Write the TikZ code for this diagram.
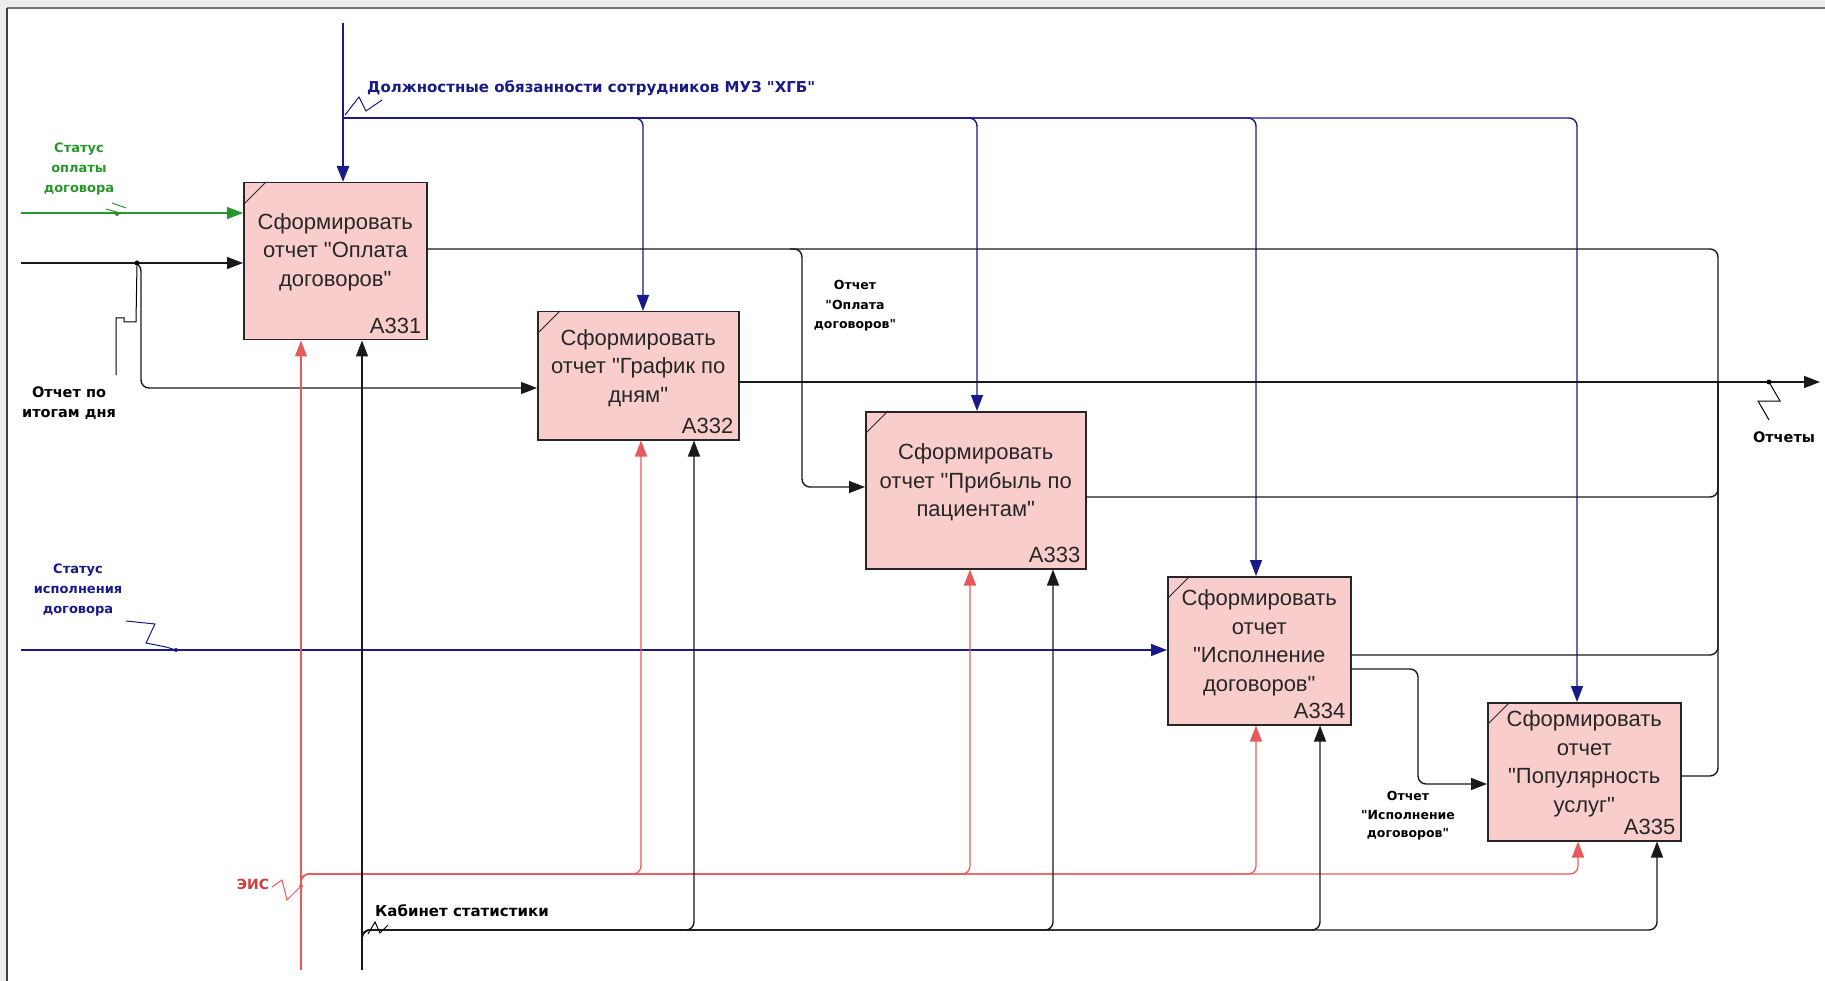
\documentclass[tikz,border=0pt]{standalone}
\usepackage{fontspec}
\setmainfont{Liberation Sans}
\newfontfamily\boxfont{Liberation Sans}
\newfontfamily\lblfont{DejaVu Sans}
\usetikzlibrary{arrows.meta}
\definecolor{navy}{RGB}{25,25,135}
\definecolor{grn}{RGB}{40,150,40}
\definecolor{rd}{RGB}{232,90,90}
\definecolor{rdtxt}{RGB}{210,60,60}
\definecolor{boxfill}{RGB}{250,205,205}
\definecolor{framebg}{RGB}{236,236,236}
\begin{document}
\begin{tikzpicture}[x=1pt,y=-1pt,
  box/.style={draw=black!85, line width=1.5pt, fill=boxfill, anchor=north west, inner sep=0pt},
  boxtxt/.style={font=\boxfont\fontsize{22}{28.5}\selectfont, align=center, text=black!85, inner sep=0pt},
  idtxt/.style={font=\boxfont\fontsize{22}{26}\selectfont, anchor=south east, inner sep=0pt, text=black!85},
  tip/.style={-{Triangle[length=16pt,width=12pt]}},
  ln/.style={line width=1.4pt, draw=black!90, rounded corners=8pt},
  nv/.style={line width=1.4pt, draw=navy, rounded corners=8pt},
  gr/.style={line width=1.4pt, draw=grn, rounded corners=8pt},
  rl/.style={line width=1.2pt, draw=rd, rounded corners=8pt},
  sq/.style={line width=1pt},
  lbl/.style={font=\lblfont\bfseries\fontsize{15}{19}\selectfont, align=center, inner sep=0pt},
  slbl/.style={font=\lblfont\bfseries\fontsize{13}{20}\selectfont, align=center, inner sep=0pt},
  dot/.style={circle, fill, inner sep=0pt, minimum size=5pt}
]
\path[use as bounding box, fill=white] (0,0) rectangle (1825,981);
\fill[framebg] (0,0) rectangle (1825,8);
\fill[framebg] (0,0) rectangle (6,981);
\draw[black!55, line width=1.2pt] (7,8) -- (1825,8);
\draw[black!75, line width=1.6pt] (7,8) -- (7,981);

% boxes
\node[box, minimum width=183pt, minimum height=157pt] (A331) at (243,182) {};
\node[box, minimum width=201pt, minimum height=128pt] (A332) at (537,311) {};
\node[box, minimum width=220pt, minimum height=157pt] (A333) at (865,411) {};
\node[box, minimum width=183pt, minimum height=148pt] (A334) at (1167,576) {};
\node[box, minimum width=193pt, minimum height=138pt] (A335) at (1487,702) {};
\foreach \b in {A331,A332,A333,A334,A335}{
  \draw[black!85, line width=1pt] (\b.north west) ++(0,23) -- ++(23,-23);
}
\node[boxtxt] (A331t) at ([yshift=9pt]A331.center) {Сформировать\\отчет "Оплата\\договоров"};
\node[boxtxt] (A332t) at ([yshift=8pt]A332.center) {Сформировать\\отчет "График по\\дням"};
\node[boxtxt] (A333t) at ([yshift=8pt]A333.center) {Сформировать\\отчет "Прибыль по\\пациентам"};
\node[boxtxt] (A334t) at ([yshift=8pt]A334.center) {Сформировать\\отчет\\"Исполнение\\договоров"};
\node[boxtxt] (A335t) at ([yshift=8pt]A335.center) {Сформировать\\отчет\\"Популярность\\услуг"};
\node[idtxt] (A331i) at ([xshift=-6pt,yshift=7pt]A331.south east) {A331};
\node[idtxt] (A332i) at ([xshift=-6pt,yshift=7pt]A332.south east) {A332};
\node[idtxt] (A333i) at ([xshift=-6pt,yshift=7pt]A333.south east) {A333};
\node[idtxt] (A334i) at ([xshift=-6pt,yshift=7pt]A334.south east) {A334};
\node[idtxt] (A335i) at ([xshift=-6pt,yshift=7pt]A335.south east) {A335};

% control (top)
\coordinate (ctop) at (343,23);
\coordinate (cb) at (343,118);
\coordinate (cb2) at (643,118);
\coordinate (cb3) at (977,118);
\coordinate (cb4) at (1256,118);
\coordinate (cb5) at (1577,118);
\draw[navy, line width=2.6pt, tip] (ctop) -- (ctop |- A331.north);
\draw[nv, tip] (cb) -- (cb2) -- (cb2 |- A332.north);
\draw[nv, tip] (cb) -- (cb3) -- (cb3 |- A333.north);
\draw[nv, tip] (cb) -- (cb4) -- (cb4 |- A334.north);
\draw[nv, tip] (cb) -- (cb5) -- (cb5 |- A335.north);
\node[lbl, text=navy, anchor=west] (lctrl) at (367,88) {Должностные обязанности сотрудников МУЗ "ХГБ"};
\coordinate (sq1a) at (345,115);
\draw[navy, sq] (sq1a) -- (359,97) -- (366,111) -- (382,100);

% inputs
\coordinate (inG) at (21,213);
\draw[gr, tip] (inG) -- (inG -| A331.west);
\node[slbl, text=grn] (lgrn) at (79,169) {Статус\\оплаты\\договора};
\coordinate (gdot) at (117,214);
\draw[grn, sq] (112,203) -- (126,208);
\draw[grn, sq] (106,209) -- (120,213);
\node[dot, grn, minimum size=4pt] at (gdot) {};

\coordinate (inK) at (21,263);
\draw[ln, tip] (inK) -- (inK -| A331.west);
\coordinate (brK) at (128,263);
\coordinate (brK2) at (141,263);
\coordinate (brK3) at (141,388);
\draw[ln, tip] (brK) -- (brK2) -- (brK3) -- (brK3 -| A332.west);
\node[dot] (kdot) at (137,263) {};
\draw[black, sq] (116,375) -- (116,318) -- (124,318) -- (124,322) -- (136,322) -- (kdot);
\node[lbl, font=\lblfont\bfseries\fontsize{14.5}{20}\selectfont] (lday) at (69,403) {Отчет по\\итогам дня};

\coordinate (inB) at (21,650);
\draw[nv, tip] (inB) -- (inB -| A334.west);
\node[dot, navy, minimum size=4pt] (bdot) at (176,650) {};
\draw[navy, sq] (126,621) -- (155,624) -- (146,643) -- (166,647) -- (bdot);
\node[slbl, text=navy] (lblue) at (78,590) {Статус\\исполнения\\договора};

% outputs
\coordinate (j) at (1718,382);
\coordinate (o1) at (426,249);
\coordinate (o2) at (738,382);
\coordinate (oend) at (1820,382);
\coordinate (o3) at (1085,497);
\coordinate (o4) at (1350,655);
\coordinate (o4b) at (1350,669);
\coordinate (o5) at (1680,776);
\draw[ln] (o1) -- (o1 -| j) -- (j);
\draw[ln] (o3) -- (o3 -| j) -- (j);
\draw[ln] (o4) -- (o4 -| j) -- (j);
\draw[ln] (o5) -- (o5 -| j) -- (j);
\draw[ln, tip] (o2) -- (oend);
\coordinate (b1) at (790,249);
\coordinate (b1c) at (802,249);
\coordinate (b1d) at (802,487);
\draw[ln, tip] (b1) -- (b1c) -- (b1d) -- (b1d -| A333.west);
\coordinate (b4) at (1418,669);
\coordinate (b4d) at (1418,784);
\draw[ln, tip] (o4b) -- (b4) -- (b4d) -- (b4d -| A335.west);
\node[slbl, font=\lblfont\bfseries\fontsize{12.5}{19.5}\selectfont] (l1) at (855,306) {Отчет\\"Оплата\\договоров"};
\node[slbl, font=\lblfont\bfseries\fontsize{12.5}{18.5}\selectfont] (l4) at (1408,816) {Отчет\\"Исполнение\\договоров"};
\node[dot] (odot) at (1769,382) {};
\draw[black, sq] (odot) -- (1780,401) -- (1758,401) -- (1769,420);
\node[lbl, font=\lblfont\bfseries\fontsize{14.5}{18}\selectfont] (lout) at (1784,437) {Отчеты};

% mechanisms: red
\coordinate (r0) at (301,970);
\draw[rd, line width=1.2pt, tip] (r0) -- (r0 |- A331.south);
\coordinate (rb) at (301,892);
\coordinate (rbc) at (301,874);
\coordinate (rx2) at (641,874);
\coordinate (rx3) at (970,874);
\coordinate (rx4) at (1256,874);
\coordinate (rx5) at (1578,874);
\draw[rl, tip] (rb) -- (rbc) -- (rx2) -- (rx2 |- A332.south);
\draw[rl, tip] (rb) -- (rbc) -- (rx3) -- (rx3 |- A333.south);
\draw[rl, tip] (rb) -- (rbc) -- (rx4) -- (rx4 |- A334.south);
\draw[rl, tip] (rb) -- (rbc) -- (rx5) -- (rx5 |- A335.south);
\node[dot, rd, minimum size=4pt] (rdot) at (301,886) {};
\draw[rd, sq] (272,887) -- (282,880) -- (287,900) -- (rdot);
\node[lbl, text=rdtxt, font=\lblfont\bfseries\fontsize{14}{18}\selectfont] (leis) at (253,884) {ЭИС};

% mechanisms: black
\coordinate (k0) at (362,970);
\draw[black!90, line width=1.4pt, tip] (k0) -- (k0 |- A331.south);
\coordinate (kb) at (362,946);
\coordinate (kbc) at (362,930);
\coordinate (kx2) at (694,930);
\coordinate (kx3) at (1053,930);
\coordinate (kx4) at (1320,930);
\coordinate (kx5) at (1657,930);
\draw[ln, tip] (kb) -- (kbc) -- (kx2) -- (kx2 |- A332.south);
\draw[ln, tip] (kb) -- (kbc) -- (kx3) -- (kx3 |- A333.south);
\draw[ln, tip] (kb) -- (kbc) -- (kx4) -- (kx4 |- A334.south);
\draw[ln, tip] (kb) -- (kbc) -- (kx5) -- (kx5 |- A335.south);
\draw[black, sq] (368,934) -- (375,922) -- (380,933) -- (388,925);
\node[lbl, anchor=west] (lkab) at (375,911) {Кабинет статистики};
\end{tikzpicture}
\end{document}
